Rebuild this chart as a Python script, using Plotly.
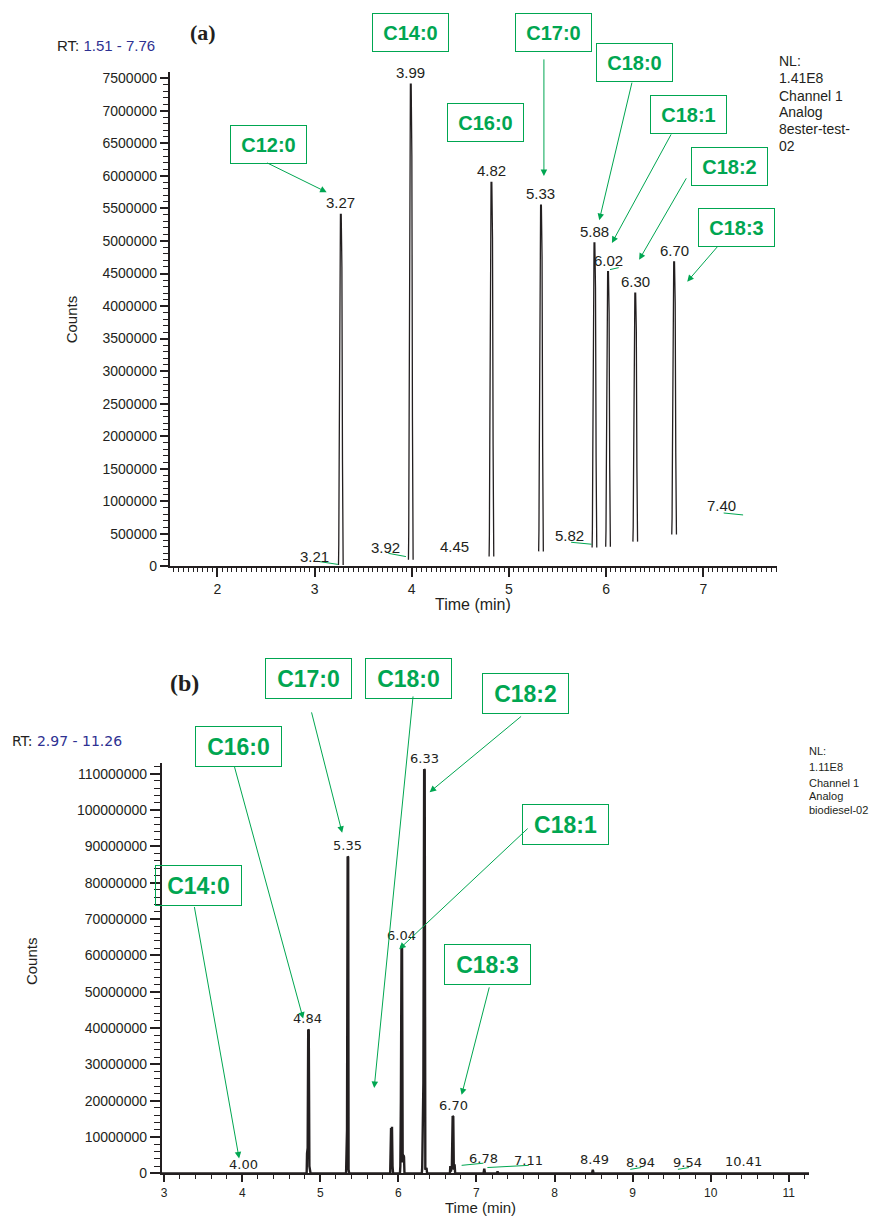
import plotly.graph_objects as go

W, H = 876, 1224
def PX(x): return x / W
def PY(y): return 1 - y / H

INK = "#231f20"
GREEN = "#00a651"
BLUE = "#2e3192"

# ---------------- Panel (a) data ----------------
top_rt = [3.27, 3.99, 4.82, 5.33, 5.88, 6.02, 6.30, 6.70]
top_height = [5.41e6, 7.41e6, 5.90e6, 5.55e6, 4.97e6, 4.53e6, 4.20e6, 4.68e6]
top_base = [0.02e6, 0.10e6, 0.15e6, 0.23e6, 0.29e6, 0.30e6, 0.38e6, 0.49e6]
top_peak_labels = ["3.27", "3.99", "4.82", "5.33", "5.88", "6.02", "6.30", "6.70"]

top_minor_labels = ["3.21", "3.92", "4.45", "5.82", "7.40"]
top_minor_t = [3.00, 3.73, 4.44, 5.62, 7.19]
top_minor_v = [0.15e6, 0.29e6, 0.30e6, 0.47e6, 0.93e6]
top_leader_t = [[3.02, 3.24], [3.76, 3.94], [5.64, 5.85], [7.21, 7.41], [6.04, 6.13]]
top_leader_v = [[0.08e6, 0.03e6], [0.20e6, 0.15e6], [0.37e6, 0.34e6], [0.82e6, 0.79e6], [4.56e6, 4.59e6]]

top_compounds = ["C12:0", "C14:0", "C16:0", "C17:0", "C18:0", "C18:1", "C18:2", "C18:3"]
top_box_px = [(268, 144), (410, 31), (485, 121), (553, 31), (634, 61), (688, 113), (729, 166), (736, 227)]
top_arrow_tip = [(3.124, 5.75e6), None, None, (5.36, 6.0e6), (5.93, 5.32e6), (6.06, 4.97e6), (6.34, 4.71e6), (6.835, 4.375e6)]
top_arrow_off = [(-61, -30), None, None, (0, -118), (33, -139), (60, -110), (48, -83), (32, -37)]

top_nl_lines = ["NL:", "1.41E8", "Channel 1", "Analog", "8ester-test-", "02"]
top_nl_y = [59, 77, 95, 111, 128, 145]

# ---------------- Panel (b) data ----------------
bot_t = [2.97, 4.825, 4.83, 4.838, 4.845, 4.852, 4.86, 4.865, 4.875,
         5.33, 5.335, 5.342, 5.35, 5.357, 5.362, 5.37,
         5.895, 5.90, 5.906, 5.912, 5.918, 5.925, 5.932,
         6.02, 6.025, 6.032, 6.04, 6.047, 6.055, 6.065, 6.072, 6.078,
         6.30, 6.305, 6.312, 6.32, 6.33, 6.337, 6.345, 6.36, 6.368,
         6.66, 6.665, 6.672, 6.685, 6.695, 6.703, 6.71, 6.72, 6.727,
         7.09, 7.10, 7.11, 7.26, 7.27, 7.28, 8.48, 8.49, 8.50, 11.26]
bot_counts = [0, 0, 5.5e6, 7e6, 39.6e6, 39.4e6, 2e6, 0.5e6, 0,
              0, 10e6, 12e6, 87.2e6, 87e6, 1e6, 0,
              0, 3.5e6, 12.5e6, 4e6, 12.8e6, 2e6, 0,
              0, 2e6, 20e6, 62.6e6, 62e6, 3e6, 5e6, 4.5e6, 0,
              0, 1.5e6, 16e6, 25e6, 111.2e6, 111e6, 1e6, 1.5e6, 0,
              0, 2e6, 0.5e6, 2e6, 15.8e6, 15.6e6, 1e6, 2.5e6, 0,
              0, 1.3e6, 0, 0, 0.5e6, 0, 0, 1e6, 0, 0]

bot_peak_t = [4.84, 5.35, 6.04, 6.33, 6.70]
bot_peak_v = [39.6e6, 87.2e6, 62.6e6, 111.2e6, 15.8e6]
bot_peak_labels = ["4.84", "5.35", "6.04", "6.33", "6.70"]

bot_minor_labels = ["4.00", "6.78", "7.11", "8.49", "8.94", "9.54", "10.41"]
bot_minor_t = [4.01, 7.09, 7.67, 8.51, 9.10, 9.70, 10.42]
bot_minor_v = [2.5e6, 4.1e6, 3.5e6, 3.8e6, 3.0e6, 3.0e6, 3.3e6]
bot_leader_t = [[6.81, 7.09], [7.14, 7.67], [8.97, 9.11], [9.58, 9.72]]
bot_leader_v = [[2.2e6, 2.8e6], [1.6e6, 2.2e6], [1.1e6, 1.6e6], [1.1e6, 1.6e6]]

bot_compounds = ["C14:0", "C16:0", "C17:0", "C18:0", "C18:2", "C18:1", "C18:3"]
bot_box_px = [(198, 891), (238, 751), (308, 682), (408, 682), (525, 697), (565, 829), (487, 970)]
bot_arrow_tip = [(3.96, 4.1e6), (4.78, 42.6e6), (5.28, 93.7e6), (5.69, 23.5e6), (6.40, 104.9e6), (6.01, 61.7e6), (6.81, 21.6e6)]
bot_arrow_off = [(-45, -253), (-69, -253), (-31, -122), (39, -393), (93, -77), (130, -122), (28, -109)]

bot_nl_lines = ["NL:", "1.11E8", "Channel 1", "Analog", "biodiesel-02"]
bot_nl_y = [755, 771, 787, 801, 815]

fig = go.Figure()

# panel (a) peaks: narrow outlined spikes (double-stroke look)
for t, h, b in zip(top_rt, top_height, top_base):
    d = h - b
    xs = [t - 0.024, t - 0.021, t - 0.017, t - 0.011, t - 0.004, t + 0.004, t + 0.011, t + 0.017, t + 0.021, t + 0.024]
    ys = [b, b + 0.06 * d, b + 0.3 * d, b + 0.85 * d, h, h, b + 0.85 * d, b + 0.3 * d, b + 0.06 * d, b]
    fig.add_trace(go.Scatter(x=xs, y=ys, mode="lines", line=dict(color=INK, width=1.3),
                             xaxis="x", yaxis="y", showlegend=False, hoverinfo="skip"))
for xs, ys in zip(top_leader_t, top_leader_v):
    fig.add_trace(go.Scatter(x=xs, y=ys, mode="lines", line=dict(color=GREEN, width=1),
                             xaxis="x", yaxis="y", showlegend=False, hoverinfo="skip"))

# panel (b) chromatogram
fig.add_trace(go.Scatter(x=bot_t, y=bot_counts, mode="lines", line=dict(color=INK, width=2.4),
                         xaxis="x2", yaxis="y2", showlegend=False, hoverinfo="skip"))
for xs, ys in zip(bot_leader_t, bot_leader_v):
    fig.add_trace(go.Scatter(x=xs, y=ys, mode="lines", line=dict(color=GREEN, width=1),
                             xaxis="x2", yaxis="y2", showlegend=False, hoverinfo="skip"))

ann = []
TF = "Liberation Sans, Arial, sans-serif"
WF = "DejaVu Sans, sans-serif"
SERIF = "Liberation Serif, Times New Roman, serif"

def ptext(x, y, text, font, xanchor="center", yanchor="middle", **kw):
    d = dict(x=PX(x), y=PY(y), xref="paper", yref="paper", text=text, showarrow=False,
             xanchor=xanchor, yanchor=yanchor, font=font)
    d.update(kw)
    return d

for t, h, s in zip(top_rt, top_height, top_peak_labels):
    ann.append(dict(x=t, y=h, xref="x", yref="y", text=s, showarrow=False, xanchor="center",
                    yanchor="bottom", yshift=1, font=dict(family=TF, size=15, color=INK)))
for s, t, v in zip(top_minor_labels, top_minor_t, top_minor_v):
    ann.append(dict(x=t, y=v, xref="x", yref="y", text=s, showarrow=False, xanchor="center",
                    yanchor="middle", font=dict(family=TF, size=15, color=INK)))
for s, (cx, cy) in zip(top_compounds, top_box_px):
    ann.append(ptext(cx, cy, "<b>" + s + "</b>", dict(family=TF, size=20, color=GREEN),
                     bordercolor=GREEN, borderwidth=1, borderpad=6, width=63, height=25))
for tip, off in zip(top_arrow_tip, top_arrow_off):
    if tip is None:
        continue
    ann.append(dict(x=tip[0], y=tip[1], xref="x", yref="y", ax=off[0], ay=off[1], text="",
                    showarrow=True, arrowhead=2, arrowsize=1.3, arrowwidth=1, arrowcolor=GREEN))

for t, v, s in zip(bot_peak_t, bot_peak_v, bot_peak_labels):
    ann.append(dict(x=t, y=v, xref="x2", yref="y2", text=s, showarrow=False, xanchor="center",
                    yanchor="bottom", yshift=1, font=dict(family=WF, size=13, color=INK)))
for s, t, v in zip(bot_minor_labels, bot_minor_t, bot_minor_v):
    ann.append(dict(x=t, y=v, xref="x2", yref="y2", text=s, showarrow=False, xanchor="center",
                    yanchor="middle", font=dict(family=WF, size=13, color=INK)))
for s, (cx, cy) in zip(bot_compounds, bot_box_px):
    ann.append(ptext(cx, cy, "<b>" + s + "</b>", dict(family=TF, size=23, color=GREEN),
                     bordercolor=GREEN, borderwidth=1, borderpad=6, width=73, height=27))
for tip, off in zip(bot_arrow_tip, bot_arrow_off):
    ann.append(dict(x=tip[0], y=tip[1], xref="x2", yref="y2", ax=off[0], ay=off[1], text="",
                    showarrow=True, arrowhead=2, arrowsize=1.3, arrowwidth=1, arrowcolor=GREEN))

for s, y in zip(top_nl_lines, top_nl_y):
    ann.append(ptext(777, y, s, dict(family=TF, size=14, color=INK), xanchor="left"))
for s, y in zip(bot_nl_lines, bot_nl_y):
    ann.append(ptext(807, y, s, dict(family=TF, size=11, color=INK), xanchor="left"))

ann += [
    ptext(202, 31, "<b>(a)</b>", dict(family=SERIF, size=22, color=INK)),
    ptext(54, 44, "RT: <span style='color:%s'>1.51 - 7.76</span>" % BLUE,
          dict(family=TF, size=15, color=INK), xanchor="left"),
    ptext(70, 320, "Counts", dict(family=TF, size=15, color=INK), textangle=-90),
    ptext(473, 607, "Time (min)", dict(family=TF, size=16, color=INK)),
    ptext(184, 687, "<b>(b)</b>", dict(family=SERIF, size=24, color=INK)),
    ptext(9, 745, "RT: <span style='color:%s'>2.97 - 11.26</span>" % BLUE,
          dict(family=WF, size=14, color=INK), xanchor="left"),
    ptext(30, 967, "Counts", dict(family=TF, size=15, color=INK), textangle=-90),
    ptext(480, 1215, "Time (min)", dict(family=TF, size=15, color=INK)),
]

axis_common = dict(showgrid=False, zeroline=False, showline=True, linecolor=INK, linewidth=2,
                   ticks="outside", tickcolor=INK, tickwidth=1.5, mirror=False, fixedrange=True)

fig.update_layout(
    width=W, height=H, margin=dict(l=0, r=0, t=0, b=0),
    paper_bgcolor="white", plot_bgcolor="white", showlegend=False,
    xaxis=dict(domain=[PX(169), PX(777)], range=[1.51, 7.76], anchor="y", dtick=1, tick0=0, ticklen=9,
               tickfont=dict(family=TF, size=14, color=INK),
               minor=dict(ticks="outside", dtick=0.05, tick0=0, ticklen=4, tickcolor=INK, tickwidth=1),
               **axis_common),
    yaxis=dict(domain=[PY(569), PY(71)], range=[0, 7.59e6], anchor="x", dtick=500000, tick0=0,
               tickformat="d", ticklen=8, tickfont=dict(family=TF, size=14, color=INK),
               minor=dict(ticks="outside", dtick=100000, tick0=0, ticklen=5, tickcolor=INK, tickwidth=1),
               **axis_common),
    xaxis2=dict(domain=[PX(161), PX(809)], range=[2.97, 11.26], anchor="y2", dtick=1, tick0=0, ticklen=7,
                tickfont=dict(family=TF, size=12, color=INK),
                minor=dict(ticks="outside", dtick=0.2, tick0=0, ticklen=4, tickcolor=INK, tickwidth=1),
                **axis_common),
    yaxis2=dict(domain=[PY(1181), PY(767)], range=[0, 113e6], anchor="x2", dtick=10e6, tick0=0,
                tickformat="d", ticklen=10, tickfont=dict(family=TF, size=14, color=INK),
                minor=dict(ticks="outside", dtick=2e6, tick0=0, ticklen=6, tickcolor=INK, tickwidth=1),
                **axis_common),
    annotations=ann,
)

fig.write_html("out.html")
